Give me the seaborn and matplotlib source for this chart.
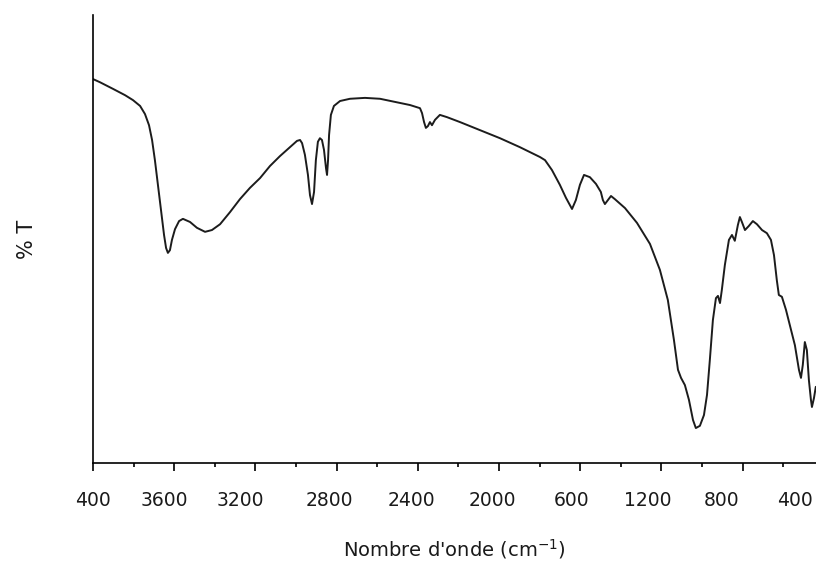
import numpy as np
import pandas as pd
import matplotlib
matplotlib.use("Agg")
import matplotlib.pyplot as plt
import seaborn as sns

# Wavenumber (cm-1)
wavenumber = [4000, 3966, 3901, 3842, 3803, 3768, 3744, 3724, 3709, 3695, 3680, 3665, 3650, 3640,
              3631, 3621, 3611, 3596, 3576, 3557, 3522, 3488, 3448, 3414, 3374, 3325, 3276, 3227,
              3177, 3128, 3079, 3030, 2995, 2980, 2970, 2956, 2941, 2931, 2921, 2911, 2902, 2892,
              2882, 2872, 2862, 2852, 2847, 2842, 2837, 2828, 2813, 2783, 2734, 2660, 2586, 2512,
              2438, 2389, 2379, 2369, 2360, 2350, 2340, 2330, 2315, 2291, 2256, 2192, 2094, 1995,
              1897, 1798, 1773, 1739, 1700, 1670, 1640, 1621, 1601, 1581, 1552, 1522, 1498, 1488,
              1478, 1463, 1448, 1429, 1379, 1320, 1256, 1207, 1168, 1138, 1118, 1103, 1084, 1064,
              1044, 1030, 1010, 990, 975, 961, 946, 931, 921, 911, 902, 887, 867, 852, 838, 823,
              813, 803, 788, 769, 749, 729, 704, 680, 660, 645, 631, 621, 606, 586, 567, 542, 522,
              512, 503, 493, 483, 473, 463, 458, 448, 439]

# Transmittance (%T, arbitrary scale)
transmittance = [85.7, 85.0, 83.5, 82.1, 81.0, 79.7, 77.9, 75.4, 72.1, 67.6, 62.1, 56.5, 50.9, 48.0,
                 46.9, 47.5, 49.8, 52.2, 54.0, 54.5, 53.8, 52.5, 51.6, 52.0, 53.3, 56.0, 58.9, 61.4,
                 63.6, 66.3, 68.5, 70.5, 71.9, 72.1, 71.4, 68.8, 64.3, 59.8, 57.8, 60.5, 67.6, 71.7,
                 72.5, 72.1, 69.9, 65.8, 64.3, 67.6, 73.2, 77.7, 79.7, 80.8, 81.3, 81.5, 81.3, 80.6,
                 79.9, 79.2, 78.1, 76.1, 74.8, 75.2, 76.1, 75.4, 76.6, 77.7, 77.2, 76.1, 74.3, 72.5,
                 70.5, 68.3, 67.6, 65.4, 62.1, 59.2, 56.7, 58.7, 62.1, 64.3, 63.8, 62.3, 60.5, 58.7,
                 57.8, 58.7, 59.6, 58.9, 56.9, 53.6, 48.9, 43.1, 36.4, 27.5, 20.8, 19.0, 17.4, 14.1,
                 9.6, 7.8, 8.3, 10.7, 15.2, 23.0, 31.9, 36.8, 37.3, 35.7, 38.6, 44.2, 49.8, 50.9,
                 49.6, 53.1, 54.9, 53.8, 52.0, 52.9, 54.0, 53.3, 52.0, 51.3, 49.8, 46.4, 40.8,
                 37.5, 37.1, 34.2, 30.8, 26.3, 20.8, 19.0, 21.9, 27.0, 25.2, 18.5, 14.1, 12.5,
                 14.5, 17.0]

# Tick labels as printed on the figure and where they appear along the axis
tick_label_pos = [4000, 3650, 3276, 2837, 2429, 2030, 1640, 1266, 902, 542]
tick_labels = ["400", "3600", "3200", "2800", "2400", "2000", "600", "1200", "800", "400"]
major_ticks = [4000, 3600, 3200, 2800, 2400, 2000, 1600, 1200, 800]
minor_ticks = [3800, 3400, 3000, 2600, 2200, 1800, 1400, 1000, 600]

df = pd.DataFrame({"wavenumber": wavenumber, "T": transmittance})

sns.set_theme(style="white")
plt.rcParams["font.family"] = ["DejaVu Sans"]

fig = plt.figure(figsize=(8.16, 5.69), dpi=100)
ax = fig.add_axes([93 / 816, 106 / 569, 723 / 816, 448 / 569])

sns.lineplot(data=df, x="wavenumber", y="T", ax=ax, color="#1c1c1c",
             linewidth=1.4, estimator=None, sort=False)

ax.set_xlim(4000, 438)
ax.set_ylim(0, 100)

for side in ["top", "right"]:
    ax.spines[side].set_visible(False)
for side in ["left", "bottom"]:
    ax.spines[side].set_color("black")
    ax.spines[side].set_linewidth(1.2)

ax.set_yticks([])
ax.set_xticks(tick_label_pos, tick_labels)
ax.tick_params(axis="x", length=0, pad=20, labelsize=13.5, labelcolor="#1a1a1a")

sec = ax.secondary_xaxis("bottom")
sec.set_xticks(major_ticks)
sec.set_xticks(minor_ticks, minor=True)
sec.set_xticklabels([])
sec.tick_params(axis="x", which="major", length=6, width=1.2, color="black", direction="out")
sec.tick_params(axis="x", which="minor", length=3, width=1.2, color="black", direction="out")
sec.spines["bottom"].set_visible(False)

ax.set_xlabel("Nombre d'onde (cm$^{-1}$)", fontsize=14, color="#1a1a1a")
ax.set_ylabel("% T", fontsize=15, color="#1a1a1a")
ax.xaxis.set_label_coords(0.5, -0.165)
ax.yaxis.set_label_coords(-0.078, 0.5)

fig.savefig("out.png", dpi=100)
